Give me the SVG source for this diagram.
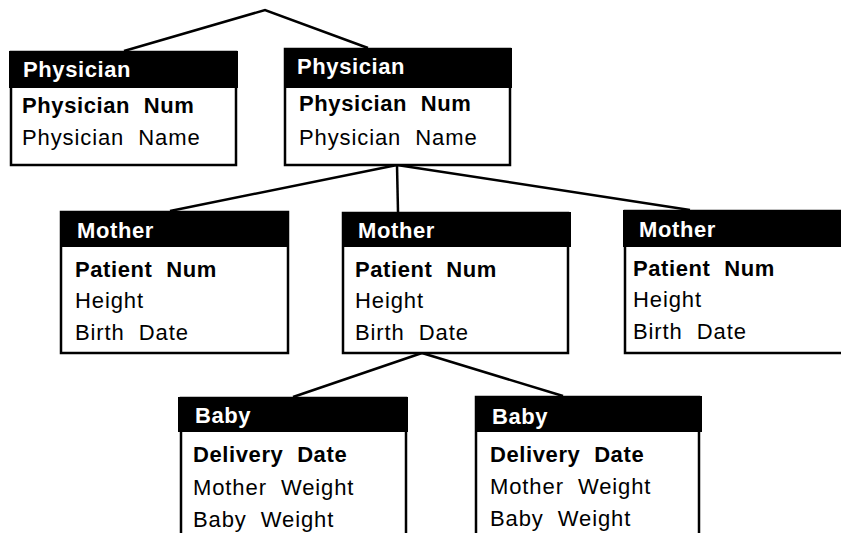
<svg xmlns="http://www.w3.org/2000/svg" width="841" height="533" viewBox="0 0 841 533">
<style>
.hd{fill:#000}
.bd{fill:#fff;stroke:#000;stroke-width:2.5}
.ht{font-family:"Liberation Sans",Arial,sans-serif;font-size:22px;font-weight:bold;fill:#fff;letter-spacing:0.6px;word-spacing:7px}
.k{font-family:"Liberation Sans",Arial,sans-serif;font-size:22px;font-weight:bold;fill:#000;letter-spacing:0.6px;word-spacing:7px}
.a{font-family:"Liberation Sans",Arial,sans-serif;font-size:22px;fill:#000;letter-spacing:0.9px;word-spacing:7px}
.ln{fill:none;stroke:#000;stroke-width:2.5}
</style>
<rect width="841" height="533" fill="#fff"/>
<g id="connectors">
<polyline class="ln" points="124,51 265,10 368,48"/>
<line class="ln" x1="397" y1="165" x2="170" y2="211"/>
<line class="ln" x1="397" y1="165" x2="398" y2="212"/>
<line class="ln" x1="397" y1="165" x2="690" y2="210"/>
<line class="ln" x1="422" y1="353" x2="293" y2="397"/>
<line class="ln" x1="422" y1="353" x2="563" y2="396"/>
</g>
<g id="physician1">
<rect class="bd" x="11" y="52" width="225" height="113"/>
<rect class="hd" x="9" y="51" width="229" height="37"/>
<text class="ht" x="23" y="77">Physician</text>
<text class="k" x="22" y="113">Physician Num</text>
<text class="a" x="22" y="145">Physician Name</text>
</g>
<g id="physician2">
<rect class="bd" x="285" y="49" width="225" height="116"/>
<rect class="hd" x="284" y="48" width="228" height="40"/>
<text class="ht" x="297" y="74">Physician</text>
<text class="k" x="299" y="111">Physician Num</text>
<text class="a" x="299" y="145">Physician Name</text>
</g>
<g id="mother1">
<rect class="bd" x="61" y="212" width="227" height="141"/>
<rect class="hd" x="60" y="211" width="229" height="36"/>
<text class="ht" x="77" y="238">Mother</text>
<text class="k" x="75" y="277">Patient Num</text>
<text class="a" x="75" y="308">Height</text>
<text class="a" x="75" y="340">Birth Date</text>
</g>
<g id="mother2">
<rect class="bd" x="343" y="213" width="225" height="140"/>
<rect class="hd" x="342" y="212" width="229" height="35"/>
<text class="ht" x="358" y="238">Mother</text>
<text class="k" x="355" y="277">Patient Num</text>
<text class="a" x="355" y="308">Height</text>
<text class="a" x="355" y="340">Birth Date</text>
</g>
<g id="mother3">
<rect class="bd" x="625" y="211" width="230" height="142"/>
<rect class="hd" x="623" y="210" width="230" height="37"/>
<text class="ht" x="639" y="237">Mother</text>
<text class="k" x="633" y="276">Patient Num</text>
<text class="a" x="633" y="307">Height</text>
<text class="a" x="633" y="339">Birth Date</text>
</g>
<g id="baby1">
<rect class="bd" x="181" y="398" width="225" height="150"/>
<rect class="hd" x="178" y="397" width="230" height="35"/>
<text class="ht" x="195" y="423">Baby</text>
<text class="k" x="193" y="462">Delivery Date</text>
<text class="a" x="193" y="495">Mother Weight</text>
<text class="a" x="193" y="527">Baby Weight</text>
</g>
<g id="baby2">
<rect class="bd" x="476" y="397" width="223" height="150"/>
<rect class="hd" x="475" y="396" width="227" height="36"/>
<text class="ht" x="492" y="424">Baby</text>
<text class="k" x="490" y="462">Delivery Date</text>
<text class="a" x="490" y="494">Mother Weight</text>
<text class="a" x="490" y="526">Baby Weight</text>
</g>
</svg>
